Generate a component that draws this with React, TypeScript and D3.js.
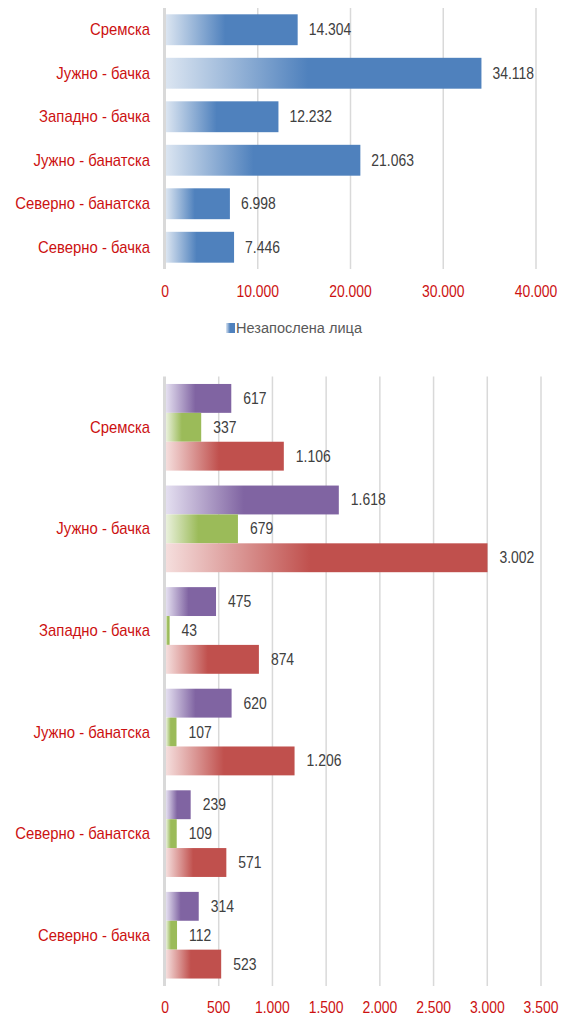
import React from "react";
import * as d3 from "d3";

const regions = [
  "Сремска",
  "Јужно - бачка",
  "Западно - бачка",
  "Јужно - банатска",
  "Северно - банатска",
  "Северно - бачка",
];

const unemployed = [14304, 34118, 12232, 21063, 6998, 7446];
const unemployedLabel = "Незапослена лица";
const topTicks = [0, 10000, 20000, 30000, 40000];

const seriesKeys = ["a", "b", "c"];
const seriesA = [617, 1618, 475, 620, 239, 314];
const seriesB = [337, 679, 43, 107, 109, 112];
const seriesC = [1106, 3002, 874, 1206, 571, 523];
const bottomTicks = [0, 500, 1000, 1500, 2000, 2500, 3000, 3500];

const palette = {
  blue: { solid: "#4F81BD", light: "#dbe5f1" },
  a: { solid: "#8064A2", light: "#e4dff0" },
  b: { solid: "#9BBB59", light: "#eaf1dc" },
  c: { solid: "#C0504D", light: "#f5dedd" },
};

const fmt = d3.formatLocale({
  decimal: ",",
  thousands: ".",
  grouping: [3],
  currency: ["", ""],
}).format(",d");

const FONT = "'Liberation Sans', Arial, sans-serif";
const LABEL_RED = "#cc1111";
const VALUE_GRAY = "#404040";
const GRID = "#d9d9d9";

// the source uses a narrow face, so squeeze the regular one horizontally
const NarrowText = ({ x, y, sx = 0.87, children, ...rest }) => (
  <text transform={`translate(${x},${y}) scale(${sx},1)`} {...rest}>
    {children}
  </text>
);

const Gradient = ({ id, light, solid }) => (
  <linearGradient id={id} x1="0%" y1="0%" x2="100%" y2="0%">
    <stop offset="0%" stopColor={light} />
    <stop offset="45%" stopColor={solid} />
    <stop offset="100%" stopColor={solid} />
  </linearGradient>
);

const App = () => {
  const width = 576;
  const height = 1016;
  const x0 = 165;

  // top chart
  const top = { y0: 8, y1: 269, xMax: 536 };
  const xTop = d3.scaleLinear().domain([0, 40000]).range([x0, top.xMax]);
  const yTop = d3
    .scaleBand()
    .domain(regions)
    .range([top.y0, top.y1])
    .paddingInner(0.29)
    .paddingOuter(0.145);

  // bottom chart
  const bot = { y0: 376.5, y1: 986, xMax: 541 };
  const xBot = d3.scaleLinear().domain([0, 3500]).range([x0, bot.xMax]);
  const yBot = d3
    .scaleBand()
    .domain(regions)
    .range([bot.y0, bot.y1])
    .paddingInner(0.147)
    .paddingOuter(0.0735);
  const ySub = d3
    .scaleBand()
    .domain(seriesKeys)
    .range([0, yBot.bandwidth()]);
  const seriesData = { a: seriesA, b: seriesB, c: seriesC };

  return (
    <svg
      width={width}
      height={height}
      style={{ position: "absolute", left: 0, top: 0, background: "#fff" }}
      fontFamily={FONT}
    >
      <defs>
        <Gradient id="gBlue" {...palette.blue} />
        <Gradient id="gA" {...palette.a} />
        <Gradient id="gB" {...palette.b} />
        <Gradient id="gC" {...palette.c} />
      </defs>

      {/* top chart grid */}
      <g>
        {topTicks.slice(1).map((t) => (
          <line
            key={t}
            x1={xTop(t)}
            x2={xTop(t)}
            y1={top.y0}
            y2={top.y1}
            stroke={GRID}
            strokeWidth={1.5}
          />
        ))}
        <line x1={x0 - 0.5} x2={x0 - 0.5} y1={top.y0} y2={top.y1} stroke={GRID} strokeWidth={3} />
        {topTicks.map((t) => (
          <NarrowText
            key={t}
            x={xTop(t)}
            y={297}
            textAnchor="middle"
            fontSize={16}
            fill={LABEL_RED}
          >
            {fmt(t)}
          </NarrowText>
        ))}
      </g>

      <g>
        {regions.map((r, i) => (
          <g key={r}>
            <rect
              x={x0 + 1}
              y={yTop(r)}
              width={xTop(unemployed[i]) - x0 - 1}
              height={yTop.bandwidth()}
              fill="url(#gBlue)"
            />
            <NarrowText
              x={xTop(unemployed[i]) + 11}
              y={yTop(r) + yTop.bandwidth() / 2 + 5.5}
              fontSize={16}
              fill={VALUE_GRAY}
            >
              {fmt(unemployed[i])}
            </NarrowText>
            <NarrowText
              x={150}
              y={yTop(r) + yTop.bandwidth() / 2 + 5.5}
              sx={0.93}
              textAnchor="end"
              fontSize={16}
              fill={LABEL_RED}
            >
              {r}
            </NarrowText>
          </g>
        ))}
      </g>

      {/* legend */}
      <g transform="translate(226, 323)">
        <rect width={9} height={10} fill="url(#gBlue)" />
        <NarrowText x={10} y={10} sx={0.97} fontSize={15} fill="#595959">
          {unemployedLabel}
        </NarrowText>
      </g>

      {/* bottom chart grid */}
      <g>
        {bottomTicks.slice(1).map((t) => (
          <line
            key={t}
            x1={xBot(t)}
            x2={xBot(t)}
            y1={bot.y0}
            y2={bot.y1}
            stroke={GRID}
            strokeWidth={1.5}
          />
        ))}
        <line x1={x0 - 0.5} x2={x0 - 0.5} y1={bot.y0} y2={bot.y1} stroke={GRID} strokeWidth={3} />
        {bottomTicks.map((t) => (
          <NarrowText
            key={t}
            x={xBot(t)}
            y={1013}
            textAnchor="middle"
            fontSize={16}
            fill={LABEL_RED}
          >
            {fmt(t)}
          </NarrowText>
        ))}
      </g>

      <g>
        {regions.map((r, i) => (
          <g key={r} transform={`translate(0, ${yBot(r)})`}>
            {seriesKeys.map((k) => {
              const v = seriesData[k][i];
              const yy = ySub(k);
              return (
                <g key={k}>
                  <rect
                    x={x0 + 1}
                    y={yy}
                    width={Math.max(0, xBot(v) - x0 - 1)}
                    height={ySub.bandwidth()}
                    fill={`url(#g${k.toUpperCase()})`}
                  />
                  <NarrowText
                    x={xBot(v) + 12}
                    y={yy + ySub.bandwidth() / 2 + 5.5}
                    fontSize={16}
                    fill={VALUE_GRAY}
                  >
                    {fmt(v)}
                  </NarrowText>
                </g>
              );
            })}
            <NarrowText
              x={150}
              y={yBot.bandwidth() / 2 + 5.5}
              sx={0.93}
              textAnchor="end"
              fontSize={16}
              fill={LABEL_RED}
            >
              {r}
            </NarrowText>
          </g>
        ))}
      </g>
    </svg>
  );
};

export default App;
